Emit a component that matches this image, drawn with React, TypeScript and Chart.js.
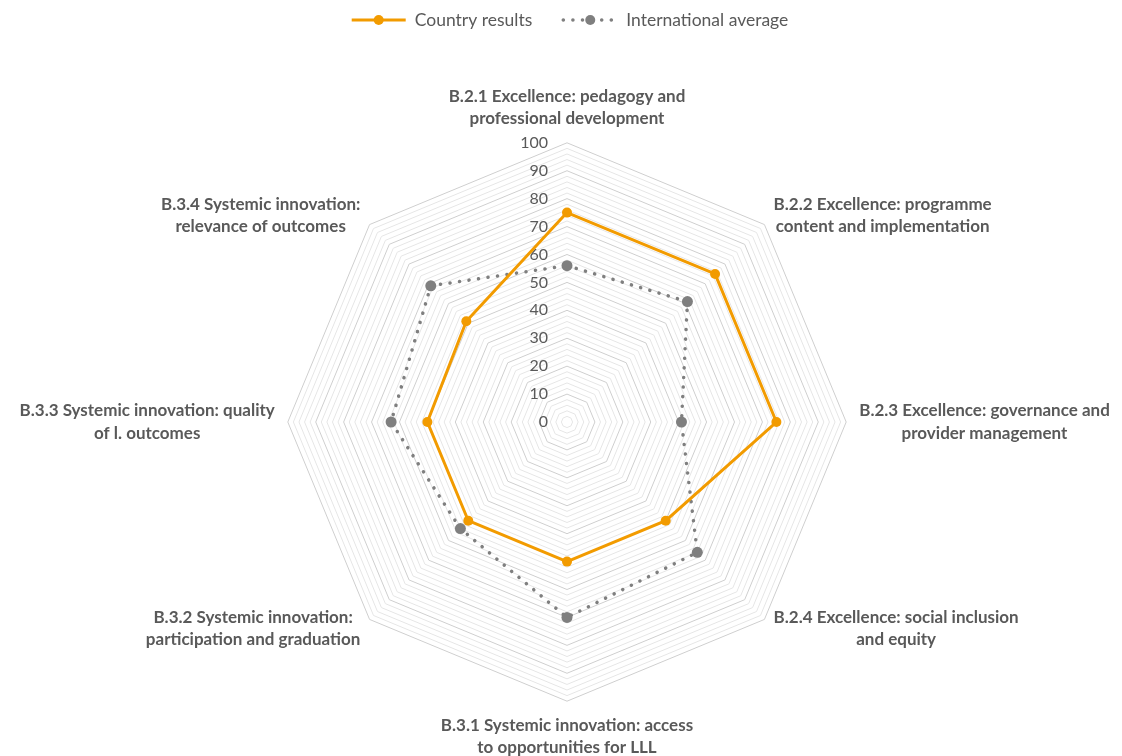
import React, { useEffect, useRef } from 'react';
import { Chart, registerables } from 'chart.js';

Chart.register(...registerables);

const categories: string[][] = [
  ['B.2.1 Excellence: pedagogy and', 'professional development'],
  ['B.2.2 Excellence: programme', 'content and implementation'],
  ['B.2.3 Excellence: governance and', 'provider management'],
  ['B.2.4 Excellence: social inclusion', 'and equity'],
  ['B.3.1 Systemic innovation: access', 'to opportunities for LLL'],
  ['B.3.2 Systemic innovation:', 'participation and graduation'],
  ['B.3.3 Systemic innovation: quality', 'of l. outcomes'],
  ['B.3.4 Systemic innovation:', 'relevance of outcomes'],
];
const countryResults: number[] = [75, 75, 75, 50, 50, 50, 50, 51];
const internationalAverage: number[] = [56, 61, 41, 66, 70, 54, 63, 69];
const tickValues: number[] = [0, 10, 20, 30, 40, 50, 60, 70, 80, 90, 100];
const seriesNames: string[] = ['Country results', 'International average'];

const TEXT = '#595959';
const ORANGE = '#F29B00';
const GRAY = '#7F7F7F';
const FONT_FAMILY = 'Lato, "Open Sans", sans-serif';
const LABEL_PAD = 13;
const LABEL_SIZE = 17;
const LINE_H = 22.5;

const overlayPlugin = {
  id: 'overlay',
  beforeDatasetsDraw(chart: any) {
    const s = chart.scales.r;
    const ctx = chart.ctx;
    ctx.save();
    ctx.font = `16px ${FONT_FAMILY}`;
    ctx.fillStyle = TEXT;
    ctx.textAlign = 'right';
    ctx.textBaseline = 'middle';
    tickValues.forEach((v) => {
      const y = s.yCenter - s.getDistanceFromCenterForValue(v);
      ctx.fillText(String(v), s.xCenter - 19, y);
    });
    ctx.restore();
  },
  afterDraw(chart: any) {
    const s = chart.scales.r;
    const ctx = chart.ctx;
    ctx.save();
    // category labels
    ctx.font = `bold ${LABEL_SIZE}px ${FONT_FAMILY}`;
    ctx.fillStyle = TEXT;
    ctx.textAlign = 'center';
    ctx.textBaseline = 'middle';
    categories.forEach((lines, i) => {
      const p = s.getPointPosition(i, s.drawingArea + LABEL_PAD);
      const w = Math.max(...lines.map((l) => ctx.measureText(l).width));
      const h = lines.length * LINE_H;
      const dx = p.x - s.xCenter;
      const dy = p.y - s.yCenter;
      let cx: number;
      let top: number;
      if (Math.abs(dx) < 1) {
        cx = p.x;
        top = dy < 0 ? p.y - h : p.y;
      } else {
        cx = dx > 0 ? p.x + w / 2 : p.x - w / 2;
        top = p.y - h / 2;
      }
      lines.forEach((l, k) => ctx.fillText(l, cx, top + LINE_H * (k + 0.5)));
    });

    // legend
    ctx.font = `17.5px ${FONT_FAMILY}`;
    const segW = 54;
    const gapText = 9;
    const gapItems = 31;
    const widths = seriesNames.map((n) => ctx.measureText(n).width);
    const total = widths.reduce((a, b) => a + b, 0) + 2 * (segW + gapText) + gapItems;
    let x = chart.width / 2 - total / 2 + 9;
    const y = 20;
    seriesNames.forEach((name, i) => {
      const color = i === 0 ? ORANGE : GRAY;
      ctx.save();
      ctx.strokeStyle = color;
      ctx.fillStyle = color;
      ctx.beginPath();
      if (i === 0) {
        ctx.lineWidth = 3;
        ctx.setLineDash([]);
        ctx.lineCap = 'butt';
      } else {
        ctx.lineWidth = 3.5;
        ctx.setLineDash([0.1, 9.5]);
        ctx.lineCap = 'round';
      }
      ctx.moveTo(x, y);
      ctx.lineTo(x + segW, y);
      ctx.stroke();
      ctx.setLineDash([]);
      ctx.beginPath();
      ctx.arc(x + segW / 2, y, 5, 0, Math.PI * 2);
      ctx.fill();
      ctx.restore();
      ctx.fillStyle = TEXT;
      ctx.textAlign = 'left';
      ctx.textBaseline = 'middle';
      ctx.fillText(name, x + segW + gapText, y);
      x += segW + gapText + widths[i] + gapItems;
    });
    ctx.restore();
  },
};

export default function App() {
  const canvasRef = useRef<HTMLCanvasElement | null>(null);

  useEffect(() => {
    const canvas = canvasRef.current;
    if (!canvas) return;
    const chart = new Chart(canvas, {
      type: 'radar',
      data: {
        labels: categories,
        datasets: [
          {
            label: seriesNames[0],
            data: countryResults,
            borderColor: ORANGE,
            backgroundColor: ORANGE,
            pointBackgroundColor: ORANGE,
            pointBorderColor: ORANGE,
            borderWidth: 3,
            pointRadius: 5,
            pointBorderWidth: 0,
            fill: false,
            tension: 0,
          },
          {
            label: seriesNames[1],
            data: internationalAverage,
            borderColor: GRAY,
            backgroundColor: GRAY,
            pointBackgroundColor: GRAY,
            pointBorderColor: GRAY,
            borderWidth: 3.5,
            borderDash: [0.1, 9.5],
            borderCapStyle: 'round',
            pointRadius: 5.5,
            pointBorderWidth: 0,
            fill: false,
            tension: 0,
          },
        ],
      },
      options: {
        animation: false,
        responsive: true,
        maintainAspectRatio: false,
        layout: { padding: { top: 89, bottom: 1, left: 8, right: 0 } },
        plugins: {
          legend: { display: false },
          tooltip: { enabled: false },
        },
        scales: {
          r: {
            min: 0,
            max: 100,
            ticks: { stepSize: 2, display: false },
            angleLines: { display: false },
            grid: {
              circular: false,
              lineWidth: 1,
              color: (c: any) =>
                c.tick && c.tick.value % 10 === 0 ? '#CFCFCF' : '#E6E6E6',
            },
            pointLabels: {
              display: true,
              color: 'rgba(0,0,0,0)',
              padding: LABEL_PAD,
              font: { family: FONT_FAMILY, size: LABEL_SIZE, weight: 'bold' },
            },
          },
        },
      },
      plugins: [overlayPlugin],
    });
    return () => chart.destroy();
  }, []);

  return (
    <div style={{ position: 'absolute', left: 0, top: 0, width: 1122, height: 756 }}>
      <canvas ref={canvasRef} />
    </div>
  );
}
